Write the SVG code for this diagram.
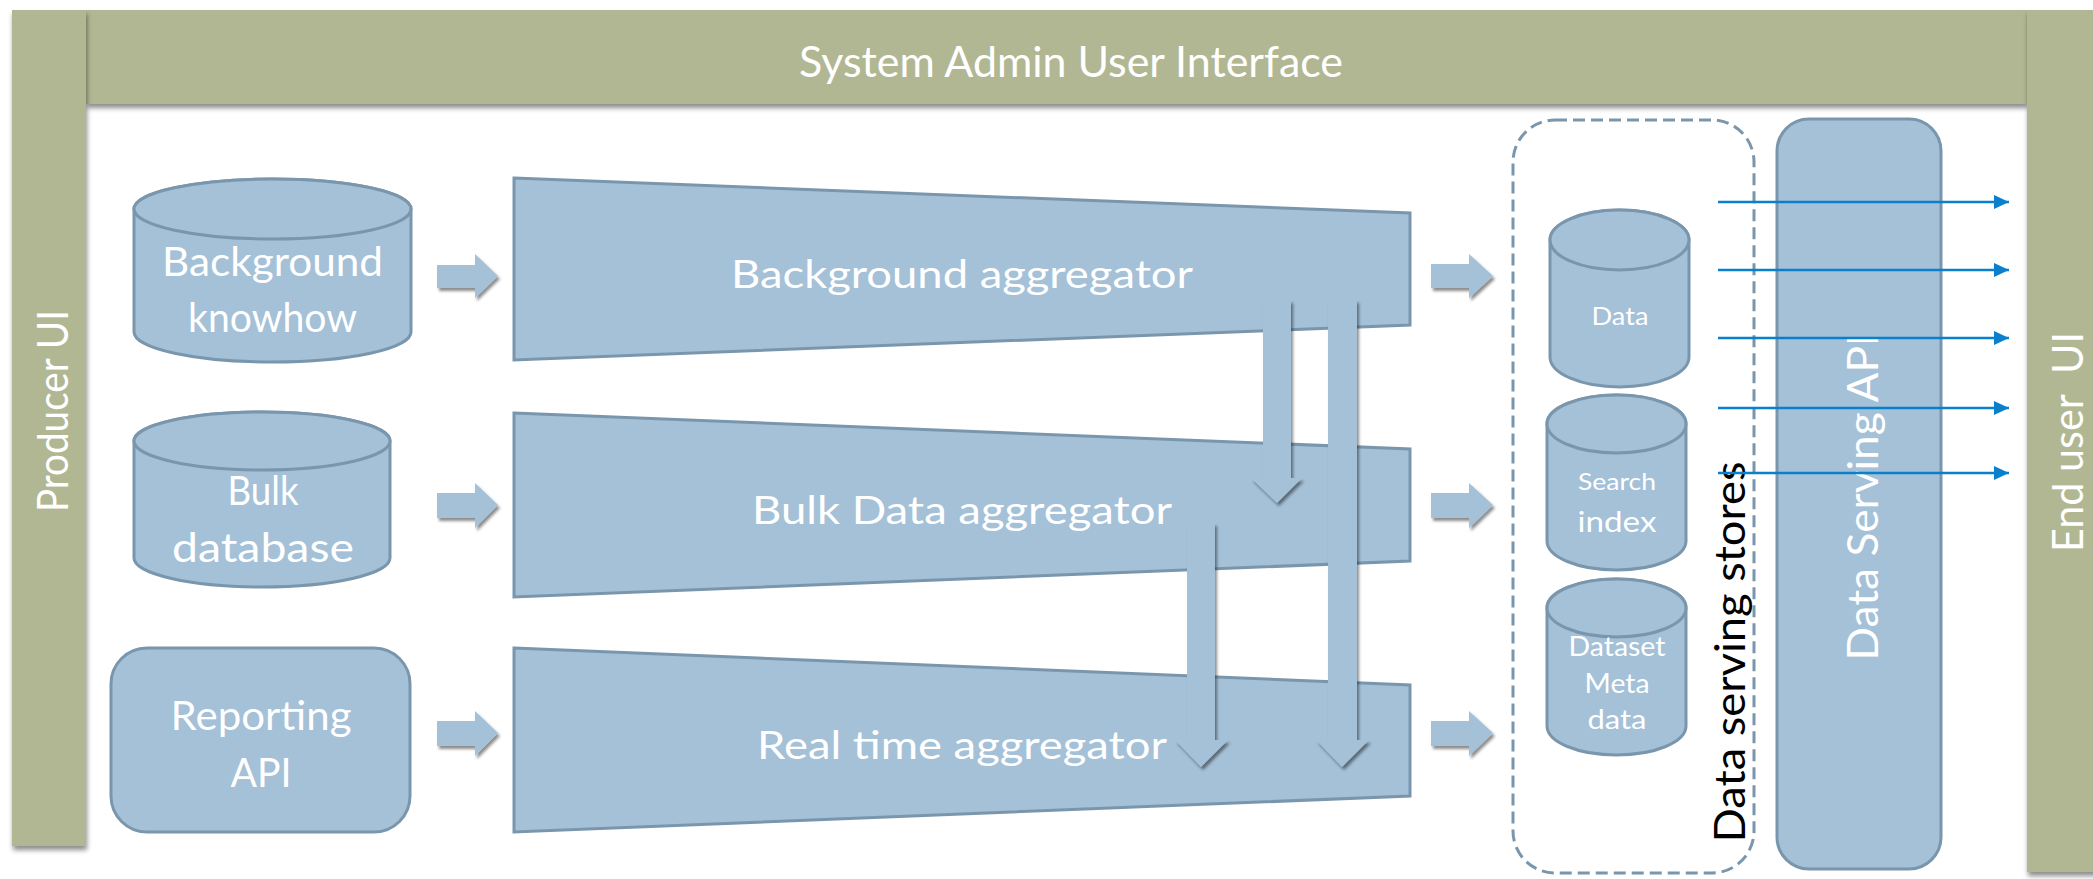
<svg xmlns="http://www.w3.org/2000/svg" width="2093" height="879" viewBox="0 0 2093 879">
<defs>
<style>
.bar{fill:#B2B793;}
.shape{fill:#A4C1D8;stroke:#7A96AD;stroke-width:3;}
.wt{fill:#FFFFFF;font-family:Lato,"Open Sans","DejaVu Sans",sans-serif;text-anchor:middle;}
.bk{fill:#000000;font-family:Lato,"Open Sans","DejaVu Sans",sans-serif;text-anchor:middle;}
.blk{fill:#A4C1D8;}
.ln{stroke:#0A7FCC;stroke-width:2.5;fill:none;}
</style>
<filter id="sh" x="-20%" y="-20%" width="140%" height="140%">
<feDropShadow dx="1" dy="4" stdDeviation="2.5" flood-color="#000" flood-opacity="0.45"/>
</filter>
<filter id="sh2" x="-30%" y="-10%" width="160%" height="120%">
<feDropShadow dx="2" dy="3" stdDeviation="1.8" flood-color="#000" flood-opacity="0.45"/>
</filter>
<marker id="ah" markerUnits="userSpaceOnUse" markerWidth="16" markerHeight="16" viewBox="0 0 16 16" refX="15" refY="8" orient="auto">
<path d="M0,1 L15,8 L0,15 Z" fill="#0A7FCC"/>
</marker>
</defs>

<g id="frame">
<rect class="bar" x="86" y="10" width="1941" height="94" filter="url(#sh)"/>
<rect class="bar" x="12" y="10" width="74" height="836" filter="url(#sh)"/>
<rect class="bar" x="2027" y="10" width="70" height="862" filter="url(#sh)"/>
</g>

<g id="sysadmin">
<text class="wt" x="1071" y="77" font-size="42" textLength="544" lengthAdjust="spacingAndGlyphs">System Admin User Interface</text>
</g>
<g id="producer">
<text class="wt" x="68" y="411" font-size="42" transform="rotate(-90 68 411)" textLength="202" lengthAdjust="spacingAndGlyphs">Producer UI</text>
</g>
<g id="enduser">
<text class="wt" x="2083" y="442" font-size="42" transform="rotate(-90 2083 442)" textLength="220" lengthAdjust="spacingAndGlyphs" style="white-space:pre">End user  UI</text>
</g>

<g id="bg-knowhow">
<path class="shape" d="M134,209 V332 A138.5,30 0 0 0 411,332 V209 A138.5,30 0 0 0 134,209 Z"/>
<ellipse class="shape" cx="272.5" cy="209" rx="138.5" ry="30"/>
<text class="wt" x="272.5" y="276" font-size="41" textLength="221" lengthAdjust="spacingAndGlyphs">Background</text>
<text class="wt" x="272.5" y="332" font-size="41" textLength="169" lengthAdjust="spacingAndGlyphs">knowhow</text>
</g>

<g id="bulk-db">
<path class="shape" d="M134,441 V558 A128,29 0 0 0 390,558 V441 A128,29 0 0 0 134,441 Z"/>
<ellipse class="shape" cx="262" cy="441" rx="128" ry="29"/>
<text class="wt" x="263" y="505" font-size="41" textLength="71" lengthAdjust="spacingAndGlyphs">Bulk</text>
<text class="wt" x="263" y="562" font-size="41" textLength="182" lengthAdjust="spacingAndGlyphs">database</text>
</g>

<g id="reporting-api">
<rect class="shape" x="111" y="648" width="299" height="184" rx="36"/>
<text class="wt" x="261" y="730" font-size="41" textLength="181" lengthAdjust="spacingAndGlyphs">Reporting</text>
<text class="wt" x="261" y="787" font-size="41" textLength="61" lengthAdjust="spacingAndGlyphs">API</text>
</g>

<g id="bg-aggregator">
<polygon class="shape" points="514,178 1410,213 1410,325 514,360"/>
<text class="wt" x="962" y="288" font-size="39" textLength="462" lengthAdjust="spacingAndGlyphs">Background aggregator</text>
</g>
<g id="bulk-aggregator">
<polygon class="shape" points="514,413 1410,449 1410,561 514,597"/>
<text class="wt" x="962" y="524" font-size="39" textLength="420" lengthAdjust="spacingAndGlyphs">Bulk Data aggregator</text>
</g>
<g id="rt-aggregator">
<polygon class="shape" points="514,648 1410,685 1410,796 514,832"/>
<text class="wt" x="962" y="759" font-size="39" textLength="410" lengthAdjust="spacingAndGlyphs">Real time aggregator</text>
</g>

<g id="stores">
<rect x="1513" y="120" width="241" height="753" rx="42" fill="none" stroke="#7A96AD" stroke-width="3" stroke-dasharray="12 6"/>
</g>

<g id="serving-api">
<rect class="shape" x="1777" y="119" width="164" height="750" rx="32"/>
<text class="wt" x="1878" y="497" font-size="42" transform="rotate(-90 1878 497)" textLength="327" lengthAdjust="spacingAndGlyphs">Data Serving API</text>
</g>

<g id="data-store">
<path class="shape" d="M1550,240 V357 A69.5,30 0 0 0 1689,357 V240 A69.5,30 0 0 0 1550,240 Z"/>
<ellipse class="shape" cx="1619.5" cy="240" rx="69.5" ry="30"/>
<text class="wt" x="1620" y="325" font-size="25" textLength="57" lengthAdjust="spacingAndGlyphs">Data</text>
</g>
<g id="search-index">
<path class="shape" d="M1547,424 V541 A69.5,29 0 0 0 1686,541 V424 A69.5,29 0 0 0 1547,424 Z"/>
<ellipse class="shape" cx="1616.5" cy="424" rx="69.5" ry="29"/>
<text class="wt" x="1617" y="490" font-size="24" textLength="78" lengthAdjust="spacingAndGlyphs">Search</text>
<text class="wt" x="1617" y="532" font-size="29" textLength="79" lengthAdjust="spacingAndGlyphs">index</text>
</g>
<g id="dataset-meta">
<path class="shape" d="M1547,608 V726 A69.5,29 0 0 0 1686,726 V608 A69.5,29 0 0 0 1547,608 Z"/>
<ellipse class="shape" cx="1616.5" cy="608" rx="69.5" ry="29"/>
<text class="wt" x="1617" y="656" font-size="26" textLength="97" lengthAdjust="spacingAndGlyphs">Dataset</text>
<text class="wt" x="1617" y="693" font-size="26" textLength="65" lengthAdjust="spacingAndGlyphs">Meta</text>
<text class="wt" x="1617" y="729" font-size="26" textLength="59" lengthAdjust="spacingAndGlyphs">data</text>
</g>

<g id="stores-label">
<text class="bk" x="1745" y="652" font-size="43" transform="rotate(-90 1745 652)" textLength="381" lengthAdjust="spacingAndGlyphs">Data serving stores</text>
</g>

<g id="connectors">
<g filter="url(#sh2)">
<polygon class="blk" points="437,265 475,265 475,254 498,276 475,298 475,288 437,288"/>
<polygon class="blk" points="437,493 475,493 475,483 498,505 475,528 475,518 437,518"/>
<polygon class="blk" points="437,721 475,721 475,711 498,733 475,756 475,746 437,746"/>
<polygon class="blk" points="1431,264 1469,264 1469,254 1493,276 1469,298 1469,288 1431,288"/>
<polygon class="blk" points="1431,493 1469,493 1469,483 1493,505 1469,528 1469,518 1431,518"/>
<polygon class="blk" points="1431,721 1469,721 1469,711 1493,733 1469,756 1469,746 1431,746"/>
</g>
<g filter="url(#sh2)">
<polygon class="blk" points="1263,300 1291,300 1291,478 1302,478 1277,503 1251,478 1263,478"/>
<polygon class="blk" points="1328,300 1357,300 1357,740 1369,740 1342,767 1316,740 1328,740"/>
<polygon class="blk" points="1187,523 1215,523 1215,740 1228,740 1201,767 1175,740 1187,740"/>
</g>
<line class="ln" x1="1718" y1="202" x2="2009" y2="202" marker-end="url(#ah)"/>
<line class="ln" x1="1718" y1="270" x2="2009" y2="270" marker-end="url(#ah)"/>
<line class="ln" x1="1718" y1="338" x2="2009" y2="338" marker-end="url(#ah)"/>
<line class="ln" x1="1718" y1="408" x2="2009" y2="408" marker-end="url(#ah)"/>
<line class="ln" x1="1718" y1="473" x2="2009" y2="473" marker-end="url(#ah)"/>
</g>
</svg>
